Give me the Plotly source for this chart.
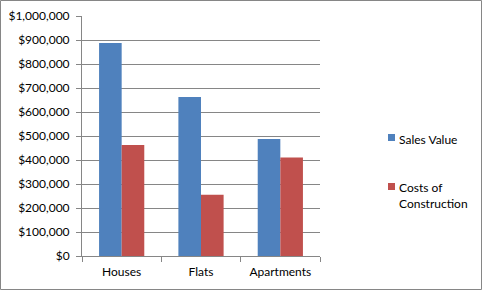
import plotly.graph_objects as go

categories = ["Houses", "Flats", "Apartments"]
sales_value = [888000, 663000, 488000]
construction_costs = [462000, 255000, 410000]
series_names = ["Sales Value", "Costs of<br>Construction"]
series_colors = ["#4F81BD", "#C0504D"]

W, H = 483, 291
L, R, T, B = 82, 320, 16, 256

def px(x):
    return (x - L) / (R - L)

def py(y):
    return (B - y) / (B - T)

fig = go.Figure()
for vals, name, col in zip([sales_value, construction_costs], series_names, series_colors):
    fig.add_trace(go.Bar(x=categories, y=vals, name=name.replace("<br>", " "),
                         marker=dict(color=col, line=dict(width=0)), showlegend=False))

font = "Lato, 'Open Sans', sans-serif"

# manual legend (Excel style small squares)
shapes = [dict(type="rect", xref="paper", yref="paper",
               x0=px(0.5), x1=px(481.5), y0=py(289.5), y1=py(0.5),
               line=dict(color="#868686", width=1), layer="below")]
annotations = []
legend_rows = [134, 183]
for name, col, top in zip(series_names, series_colors, legend_rows):
    shapes.append(dict(type="rect", xref="paper", yref="paper",
                       x0=px(388), x1=px(395), y0=py(top + 7), y1=py(top),
                       fillcolor=col, line=dict(width=0)))
    annotations.append(dict(xref="paper", yref="paper", x=px(397), y=py(top - 4.5),
                            xanchor="left", yanchor="top", align="left",
                            text=name, showarrow=False,
                            font=dict(family=font, size=12, color="#000000")))

fig.update_layout(
    width=W, height=H,
    margin=dict(l=L, r=W - R, t=T, b=H - B, pad=0, autoexpand=False),
    paper_bgcolor="white", plot_bgcolor="white",
    barmode="group", bargap=0.43, bargroupgap=0,
    font=dict(family=font, size=12, color="#000000"),
    showlegend=False,
    xaxis=dict(showline=True, linecolor="#868686", linewidth=1,
               ticks="outside", ticklen=5, tickcolor="#868686",
               tickson="boundaries", showgrid=False, zeroline=False,
               ticklabelstandoff=5,
               tickfont=dict(family=font, size=12, color="#000000")),
    yaxis=dict(range=[0, 1000000], dtick=100000, tickprefix="$", tickformat=",d",
               showline=True, linecolor="#868686", linewidth=1,
               ticks="outside", ticklen=5, tickcolor="#868686",
               showgrid=True, gridcolor="#868686", gridwidth=1, zeroline=False,
               ticklabelstandoff=4,
               tickfont=dict(family=font, size=12, color="#000000")),
    shapes=shapes,
    annotations=annotations,
)

fig.write_html("out.html")
